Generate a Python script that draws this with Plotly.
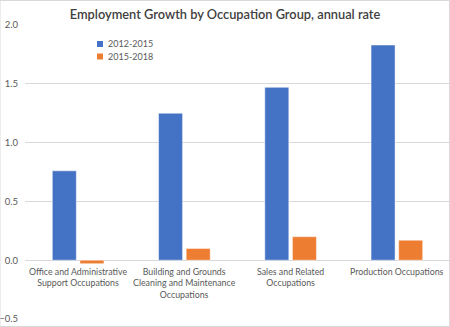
import plotly.graph_objects as go

categories = ["Office and Administrative<br>Support Occupations",
              "Building and Grounds<br>Cleaning and Maintenance<br>Occupations",
              "Sales and Related<br>Occupations",
              "Production Occupations"]
series_names = ["2012-2015", "2015-2018"]
series_colors = ["#4472C4", "#ED7D31"]
values_2012_2015 = [0.76, 1.25, 1.47, 1.83]
values_2015_2018 = [-0.03, 0.10, 0.20, 0.17]
y_ticks = [-0.5, 0.0, 0.5, 1.0, 1.5, 2.0]

FONT = "Lato, 'Open Sans', sans-serif"
W, H = 450, 327
L, R, T, B = 25, 0, 25, 8
PW, PH = W - L - R, H - T - B

fig = go.Figure()
for name, vals, col in zip(series_names, [values_2012_2015, values_2015_2018], series_colors):
    fig.add_trace(go.Bar(x=categories, y=vals, name=name, showlegend=False,
                         marker=dict(color=col, line=dict(color="#ffffff", width=0.5))))

for c in categories:
    fig.add_annotation(x=c, y=0, xref="x", yref="y", text=c, showarrow=False,
                       yanchor="top", yshift=-4,
                       font=dict(family=FONT, size=8.8, color="#595959"))

# custom compact legend (square swatches + labels)
shapes = []
for i, (name, col) in enumerate(zip(series_names, series_colors)):
    cy = 44 + i * 12.5
    px0 = (97 - L) / PW
    shapes.append(dict(type="rect", xref="paper", yref="paper",
                       x0=px0, x1=px0 + 6 / PW,
                       y0=(H - B - cy - 3) / PH, y1=(H - B - cy + 3) / PH,
                       fillcolor=col, line=dict(width=0)))
    fig.add_annotation(xref="paper", yref="paper", x=(106 - L) / PW, y=(H - B - cy) / PH,
                       text=name, showarrow=False, xanchor="left", yanchor="middle",
                       font=dict(family=FONT, size=9, color="#595959"))

shapes.append(dict(type="rect", xref="paper", yref="paper",
                   x0=-L / PW, x1=1 - 0.5 / PW, y0=-(B - 0.5) / PH, y1=1 + (T - 0.5) / PH,
                   line=dict(color="#d9d9d9", width=1)))

fig.update_layout(
    width=W, height=H,
    margin=dict(l=L, r=R, t=T, b=B),
    paper_bgcolor="white", plot_bgcolor="white",
    barmode="group", bargap=0.48, bargroupgap=0.13,
    title=dict(text="Employment Growth by Occupation Group, annual rate",
               x=0.5, xanchor="center", y=0.955, yanchor="middle",
               font=dict(family=FONT, size=12.8, color="#404040", weight=600)),
    showlegend=False,
    xaxis=dict(showticklabels=False, showgrid=False, showline=False, ticks=""),
    yaxis=dict(range=[-0.5, 2.0], tickvals=y_ticks, tickformat=".1f",
               showgrid=True, gridcolor="#d9d9d9", gridwidth=1,
               zeroline=True, zerolinecolor="#d9d9d9", zerolinewidth=1,
               tickfont=dict(family=FONT, size=9.5, color="#595959"),
               ticklabelstandoff=6),
    shapes=shapes,
)

fig.write_html("out.html")
